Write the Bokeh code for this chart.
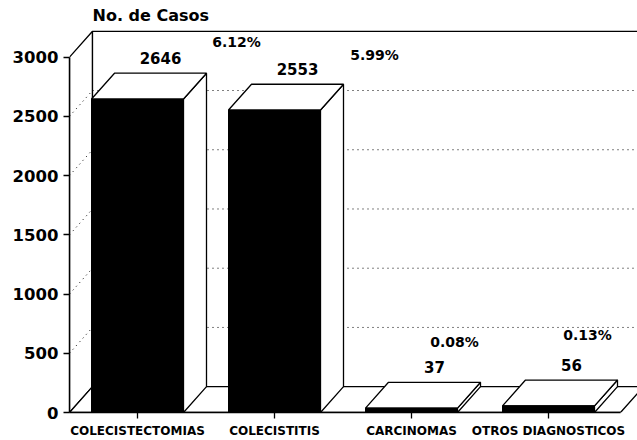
from bokeh.plotting import figure
from bokeh.models import Range1d, LinearAxis, FixedTicker, ColumnDataSource
from bokeh.embed import file_html
from bokeh.resources import INLINE
from bokeh.core.properties import value

# ---------------- data ----------------
categories = ["COLECISTECTOMIAS", "COLECISTITIS", "CARCINOMAS", "OTROS DIAGNOSTICOS"]
casos = [2646, 2553, 37, 56]
porcentajes = ["6.12%", "5.99%", "0.08%", "0.13%"]
y_ticks = [0, 500, 1000, 1500, 2000, 2500, 3000]
y_title = "No. de Casos"

# ---------------- layout / style constants (page pixels) ----------------
M = 0
W, H = 637 - 2 * M, 440 - 2 * M
FRAME_LEFT = 69
FRAME_TOP = 0
Y0 = 415
PPU = 358 / 3000.0
X0 = 137
STEP = 137.0
BAR_W = 92
DX, DY = 23, 26
FLOOR_END_PX = 620
FONT = "DejaVu Sans"
pct_dx = [76, 77, 20, 16]
pct_dy = [-31, -29, -40, -45]

x_start = (FRAME_LEFT - X0) / STEP
x_end = x_start + (W + M - FRAME_LEFT) / STEP
y_end = (Y0 - FRAME_TOP) / PPU
dxu = DX / STEP
dyu = DY / PPU
hw = BAR_W / 2 / STEP
floor_end = (FLOOR_END_PX - X0) / STEP
ymax = y_ticks[-1]

p = figure(width=W, height=H, x_range=Range1d(x_start, x_end), y_range=Range1d(0, y_end),
           x_axis_type=None, y_axis_type=None, output_backend="svg", toolbar_location=None,
           min_border_left=FRAME_LEFT - M, min_border_right=0, min_border_top=FRAME_TOP - M,
           min_border_bottom=H - (Y0 - M))
p.outline_line_color = None
p.background_fill_color = "white"
p.border_fill_color = "white"

LW = 1.3
wall_x0 = x_start + dxu
wall_x1 = floor_end + dxu

# left side wall and back wall
p.patch([x_start, x_start, wall_x0, wall_x0], [0, ymax, ymax + dyu, dyu],
        fill_color="white", line_color="black", line_width=LW)
p.patch([wall_x0, wall_x0, wall_x1, wall_x1], [dyu, ymax + dyu, ymax + dyu, dyu],
        fill_color="white", line_color="black", line_width=LW)

# dotted grid lines on walls
g = y_ticks[1:-1]
p.segment(x0=[wall_x0] * len(g), y0=[t + dyu for t in g], x1=[wall_x1] * len(g),
          y1=[t + dyu for t in g], line_color="black", line_dash="1 4", line_width=1)
p.segment(x0=[x_start] * len(g), y0=g, x1=[wall_x0] * len(g), y1=[t + dyu for t in g],
          line_color="black", line_dash="1 4", line_width=1)

# floor
p.patch([x_start, floor_end, floor_end + dxu, wall_x0], [0, 0, dyu, dyu],
        fill_color="white", line_color="black", line_width=LW)

# bars
idx = list(range(len(casos)))
left = [i - hw for i in idx]
right = [i + hw for i in idx]
side_xs = [[r, r, r + dxu, r + dxu] for r in right]
side_ys = [[0, h, h + dyu, dyu] for h in casos]
top_xs = [[l, r, r + dxu, l + dxu] for l, r in zip(left, right)]
top_ys = [[h, h, h + dyu, h + dyu] for h in casos]
p.patches(side_xs, side_ys, fill_color="white", line_color="black", line_width=LW)
p.patches(top_xs, top_ys, fill_color="white", line_color="black", line_width=LW)
p.quad(left=left, right=right, bottom=0, top=casos, fill_color="black", line_color="black", line_width=1)

# labels
src = ColumnDataSource(dict(x=[i + dxu for i in idx], y=[h + dyu for h in casos],
                            val=[str(v) for v in casos], pct=porcentajes,
                            pdx=pct_dx, pdy=pct_dy))
p.text(x="x", y="y", text="val", source=src, text_align="center", text_baseline="middle",
       y_offset=-15, text_font=value(FONT), text_font_style="bold", text_font_size="15px",
       text_color="black")
p.text(x="x", y="y", text="pct", source=src, x_offset="pdx", y_offset="pdy",
       text_align="center", text_baseline="middle", text_font=value(FONT),
       text_font_style="bold", text_font_size="14px", text_color="black")
p.text(x=[wall_x0], y=[ymax + dyu], text=[y_title], text_align="left", text_baseline="bottom",
       y_offset=-6, text_font=value(FONT), text_font_style="bold", text_font_size="16px",
       text_color="black")

# axes
yax = LinearAxis(ticker=FixedTicker(ticks=y_ticks), bounds=(0, ymax))
yax.axis_line_width = 1.5
yax.axis_line_color = "black"
yax.major_tick_out = 6
yax.major_tick_in = 0
yax.minor_tick_out = 0
yax.minor_tick_in = 0
yax.major_tick_line_width = 1.5
yax.major_label_text_font = FONT
yax.major_label_text_font_size = "16.5px"
yax.major_label_text_font_style = "bold"
yax.major_label_text_color = "black"
yax.major_label_standoff = 5
p.add_layout(yax, "left")

xax = LinearAxis(ticker=FixedTicker(ticks=idx), bounds=(x_start, floor_end),
                 major_label_overrides={i: c for i, c in zip(idx, categories)})
xax.axis_line_width = 1.5
xax.axis_line_color = "black"
xax.major_tick_out = 6
xax.major_tick_in = 0
xax.minor_tick_out = 0
xax.minor_tick_in = 0
xax.major_tick_line_width = 1.3
xax.major_label_text_font = FONT
xax.major_label_text_font_size = "12px"
xax.major_label_text_font_style = "bold"
xax.major_label_text_color = "black"
xax.major_label_standoff = 5
p.add_layout(xax, "below")

open("out.html", "w").write(file_html(p, INLINE))
